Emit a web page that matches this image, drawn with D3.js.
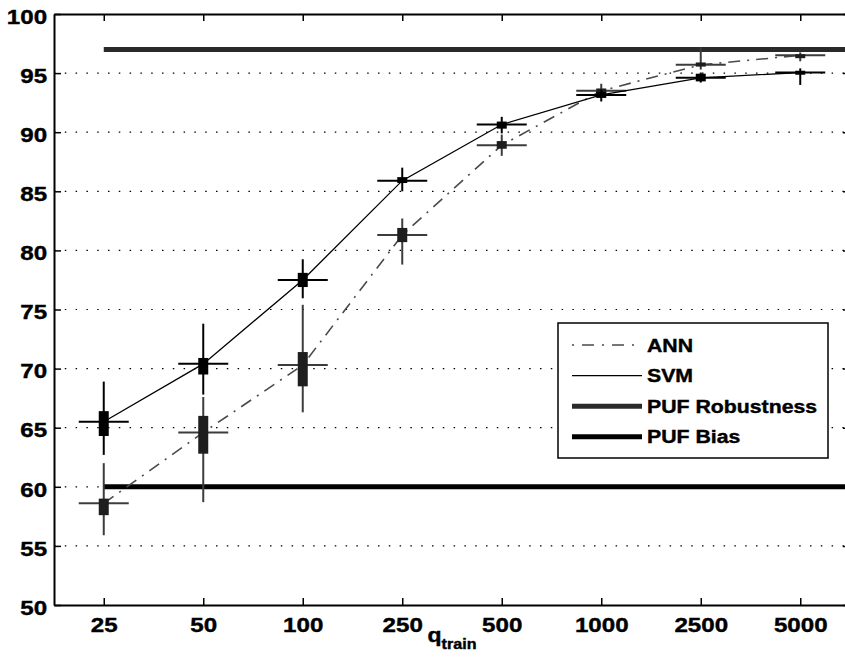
<!DOCTYPE html>
<html>
<head>
<meta charset="utf-8">
<script src="https://cdn.jsdelivr.net/npm/d3@7"></script>
<style>
body { margin: 0; background: #fff; }
svg { display: block; }
</style>
</head>
<body>
<div id="chart"></div>
<script>
// Daten
var categories = ['25', '50', '100', '250', '500', '1000', '2500', '5000'];

var annMean  = [58.6, 64.6, 70.3, 81.3, 88.9, 93.5, 95.7, 96.5];
var annBoxLo = [57.6, 62.8, 68.5, 80.7, 88.6, 93.3, 95.55, 96.35];
var annBoxHi = [59.0, 66.0, 71.4, 81.9, 89.25, 93.7, 95.9, 96.6];
var annLo    = [55.9, 58.7, 66.3, 78.8, 88.0, 93.0, 95.3, 96.0];
var annHi    = [62.0, 67.6, 75.4, 82.7, 89.8, 94.1, 97.2, 96.75];

var svmMean  = [65.5, 70.4, 77.5, 85.9, 90.65, 93.15, 94.6, 95.05];
var svmBoxLo = [64.3, 69.5, 76.9, 85.7, 90.3, 92.9, 94.3, 94.95];
var svmBoxHi = [66.4, 70.9, 78.1, 86.2, 90.9, 93.4, 94.95, 95.2];
var svmLo    = [62.7, 67.8, 75.95, 85.0, 89.9, 92.6, 94.2, 94.0];
var svmHi    = [68.9, 73.8, 79.25, 87.0, 91.3, 93.6, 95.05, 95.4];

var pufRobustness = 97;
var pufBias = 60;

var yTicks = [50, 55, 60, 65, 70, 75, 80, 85, 90, 95, 100];
var legendLabels = ['ANN', 'SVM', 'PUF Robustness', 'PUF Bias'];

var width = 845, height = 657;
var plotLeft = 54, plotRight = 850, plotTop = 14, plotBottom = 605;
var stretch = 'scale(1.15,1)';
var font = '"Liberation Sans", Arial, sans-serif';

var svg = d3.select('#chart').append('svg')
    .attr('width', width)
    .attr('height', height);

var x = d3.scalePoint()
    .domain(categories)
    .range([plotLeft, plotRight])
    .padding(0.5);

var y = d3.scaleLinear()
    .domain([50, 100])
    .range([plotBottom, plotTop]);

// Gitterlinien
svg.append('g').selectAll('line')
    .data(yTicks.slice(1, -1))
    .enter().append('line')
    .attr('x1', plotLeft)
    .attr('x2', plotRight)
    .attr('y1', d => y(d))
    .attr('y2', d => y(d))
    .attr('stroke', '#000')
    .attr('stroke-width', 1.2)
    .attr('stroke-dasharray', '1.5,9.3');

// Achsen
function styleAxis(g) {
    g.select('.domain').attr('stroke', '#000').attr('stroke-width', 2);
    g.selectAll('.tick line').attr('stroke', '#000').attr('stroke-width', 1.5);
    g.selectAll('.tick text')
        .attr('fill', '#000')
        .attr('stroke', '#000')
        .attr('stroke-width', 0.4)
        .style('font-family', font)
        .style('font-weight', 'bold')
        .style('font-size', '21px');
}

var yAxis = svg.append('g')
    .attr('transform', 'translate(' + plotLeft + ',0)')
    .call(d3.axisLeft(y).tickValues(yTicks).tickSize(-7).tickSizeOuter(0).tickPadding(6));
styleAxis(yAxis);
yAxis.selectAll('.tick text').attr('dy', '0.44em').attr('transform', stretch);

var xAxis = svg.append('g')
    .attr('transform', 'translate(0,' + plotBottom + ')')
    .call(d3.axisBottom(x).tickSize(-7).tickSizeOuter(0).tickPadding(12));
styleAxis(xAxis);
xAxis.selectAll('.tick text').attr('transform', stretch);

var topAxis = svg.append('g')
    .attr('transform', 'translate(0,' + plotTop + ')')
    .call(d3.axisTop(x).tickSize(-7).tickSizeOuter(0).tickFormat(''));
styleAxis(topAxis);

var rightAxis = svg.append('g')
    .attr('transform', 'translate(' + plotRight + ',0)')
    .call(d3.axisRight(y).tickValues(yTicks).tickSize(-7).tickSizeOuter(0).tickFormat(''));
styleAxis(rightAxis);

// x-Beschriftung
var xLabel = svg.append('text')
    .attr('transform', 'translate(452,642) ' + stretch)
    .attr('text-anchor', 'middle')
    .attr('stroke', '#000')
    .attr('stroke-width', 0.4)
    .style('font-family', font)
    .style('font-weight', 'bold')
    .style('font-size', '20px');
xLabel.append('tspan').text('q');
xLabel.append('tspan').attr('dy', 7).style('font-size', '14px').text('train');

// Referenzlinien
svg.append('line')
    .attr('x1', x(categories[0])).attr('x2', plotRight)
    .attr('y1', y(pufRobustness)).attr('y2', y(pufRobustness))
    .attr('stroke', '#2a2a2a').attr('stroke-width', 5);

svg.append('line')
    .attr('x1', x(categories[0])).attr('x2', plotRight)
    .attr('y1', y(pufBias)).attr('y2', y(pufBias))
    .attr('stroke', '#000').attr('stroke-width', 5);

// Serien
var line = d3.line()
    .x((d, i) => x(categories[i]))
    .y(d => y(d));

function drawSeries(mean, lo, hi, boxLo, boxHi, color, boxColor, lineColor, lineWidth, dash) {
    var g = svg.append('g');

    g.append('path')
        .datum(mean)
        .attr('d', line)
        .attr('fill', 'none')
        .attr('stroke', lineColor)
        .attr('stroke-width', lineWidth)
        .attr('stroke-dasharray', dash);

    g.selectAll('.whisker')
        .data(categories)
        .enter().append('line')
        .attr('x1', d => x(d)).attr('x2', d => x(d))
        .attr('y1', (d, i) => y(lo[i]))
        .attr('y2', (d, i) => y(hi[i]))
        .attr('stroke', color)
        .attr('stroke-width', 2);

    g.selectAll('.meanbar')
        .data(categories)
        .enter().append('line')
        .attr('x1', d => x(d) - 25).attr('x2', d => x(d) + 25)
        .attr('y1', (d, i) => y(mean[i]))
        .attr('y2', (d, i) => y(mean[i]))
        .attr('stroke', color)
        .attr('stroke-width', 2);

    g.selectAll('rect')
        .data(categories)
        .enter().append('rect')
        .attr('x', d => x(d) - 5)
        .attr('width', 10)
        .attr('y', (d, i) => y(boxHi[i]))
        .attr('height', (d, i) => Math.max(y(boxLo[i]) - y(boxHi[i]), 4))
        .attr('fill', boxColor);
}

drawSeries(annMean, annLo, annHi, annBoxLo, annBoxHi, '#3c3c3c', '#1e1e1e', '#4a4a4a', 1.6, '12,7,2,7');
drawSeries(svmMean, svmLo, svmHi, svmBoxLo, svmBoxHi, '#000', '#000', '#000', 1.3, null);

// Legende
var legend = svg.append('g');
legend.append('rect')
    .attr('x', 558).attr('y', 323)
    .attr('width', 270).attr('height', 135)
    .attr('fill', '#fff')
    .attr('stroke', '#000')
    .attr('stroke-width', 1.5);

var legendStyles = [
    { color: '#4a4a4a', width: 1.6, dash: '2,8,12,8' },
    { color: '#000', width: 1.2, dash: null },
    { color: '#2a2a2a', width: 5, dash: null },
    { color: '#000', width: 5, dash: null }
];

var entries = legend.selectAll('.entry')
    .data(legendLabels)
    .enter().append('g')
    .attr('transform', (d, i) => 'translate(0,' + (345 + i * 30.6) + ')');

entries.append('line')
    .attr('x1', 572).attr('x2', 642)
    .attr('y1', 0).attr('y2', 0)
    .attr('stroke', (d, i) => legendStyles[i].color)
    .attr('stroke-width', (d, i) => legendStyles[i].width)
    .attr('stroke-dasharray', (d, i) => legendStyles[i].dash);

entries.append('text')
    .attr('transform', 'translate(647,6.5) ' + stretch)
    .attr('stroke', '#000')
    .attr('stroke-width', 0.4)
    .style('font-family', font)
    .style('font-weight', 'bold')
    .style('font-size', '18.5px')
    .text(d => d);
</script>
</body>
</html>
